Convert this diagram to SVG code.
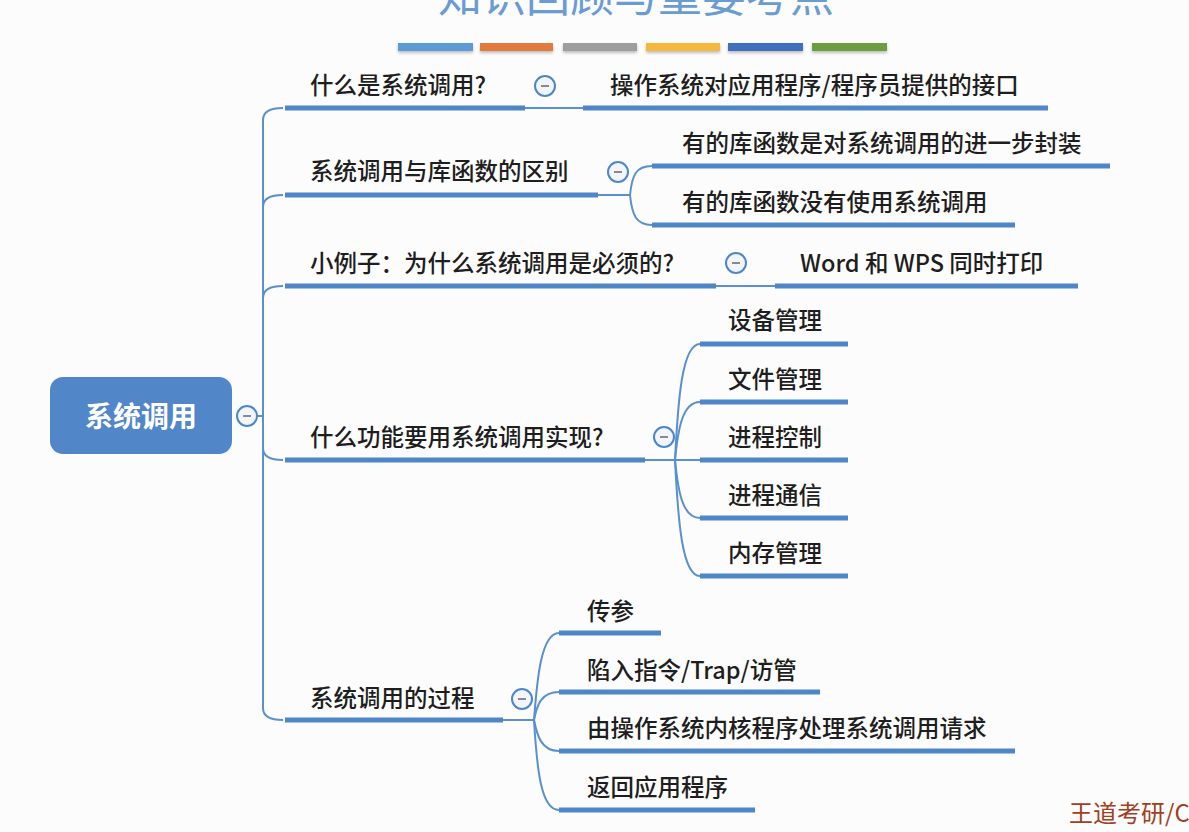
<svg xmlns="http://www.w3.org/2000/svg" width="1189" height="832" viewBox="0 0 1189 832">
<defs>
<style>
.t{font-family:"Noto Sans CJK SC","Liberation Sans",sans-serif;font-size:23.5px;fill:#1e1e1e;font-weight:500}
.u{stroke:#4e86c8;stroke-width:5;fill:none}
.c{stroke:#5a8fd0;stroke-width:2;fill:none}
.tog circle{fill:#f2f5fb;stroke:#4e86c8;stroke-width:2}
.tog line{stroke:#8a8a8a;stroke-width:2}
</style>
<filter id="sh" x="-10%" y="-50%" width="120%" height="250%"><feDropShadow dx="0" dy="2" stdDeviation="1.5" flood-color="#000" flood-opacity="0.25"/></filter>
</defs>
<rect width="1189" height="832" fill="#fcfcfc"/>
<g id="title">
<text x="636" y="12" text-anchor="middle" font-family="Noto Sans CJK SC, sans-serif" font-size="44" fill="#6a9bd3">知识回顾与重要考点</text>
<g filter="url(#sh)">
<rect x="398" y="43" width="75" height="8" fill="#5b9bd5"/>
<rect x="480" y="43" width="73" height="8" fill="#e07a3e"/>
<rect x="563" y="43" width="74" height="8" fill="#9e9e9e"/>
<rect x="646" y="43" width="74" height="8" fill="#f6b73c"/>
<rect x="728" y="43" width="75" height="8" fill="#4170bd"/>
<rect x="812" y="43" width="75" height="8" fill="#6c9e40"/>
</g>
</g>
<g id="connectors">
<path class="c" d="M258,416 H263"/>
<path class="c" d="M263,416 V120 Q263,108 283,108"/>
<path class="c" d="M263,416 V207 Q263,195 283,195"/>
<path class="c" d="M263,416 V298 Q263,286 283,286"/>
<path class="c" d="M263,416 V448 Q263,460 283,460"/>
<path class="c" d="M263,416 V708 Q263,720 283,720"/>
<path class="c" d="M525,108 H583"/>
<path class="c" d="M598,195 H630"/>
<path class="c" d="M630,195 C632,175 636,166 652,166"/>
<path class="c" d="M630,195 C632,215 636,225 652,225"/>
<path class="c" d="M716,286 H775"/>
<path class="c" d="M645,460 H700"/>
<path class="c" d="M675,460 C678,400 682,344 700,344"/>
<path class="c" d="M675,460 C678,430 682,402 700,402"/>
<path class="c" d="M675,460 C678,490 682,518 700,518"/>
<path class="c" d="M675,460 C678,520 682,576 700,576"/>
<path class="c" d="M503,720 H534"/>
<path class="c" d="M534,720 C537,680 541,633 559,633"/>
<path class="c" d="M534,720 C537,705 541,692 559,692"/>
<path class="c" d="M534,720 C537,735 541,751 559,751"/>
<path class="c" d="M534,720 C537,770 541,810 559,810"/>
</g>
<g id="root">
<rect x="50" y="377" width="182" height="77" rx="13" fill="#5186c9"/>
<text x="141" y="427" text-anchor="middle" font-family="Noto Sans CJK SC, sans-serif" font-size="28" font-weight="bold" fill="#ffffff">系统调用</text>
<g class="tog"><circle cx="247" cy="416" r="10"/><line x1="243" y1="416" x2="251" y2="416"/></g>
</g>
<g id="b1">
<text class="t" x="310" y="94">什么是系统调用?</text>
<path class="u" d="M285,108 H525"/>
<g class="tog"><circle cx="545" cy="86" r="10"/><line x1="541" y1="86" x2="549" y2="86"/></g>
</g>
<g id="b1c1">
<text class="t" x="610" y="94">操作系统对应用程序/程序员提供的接口</text>
<path class="u" d="M583,108 H1048"/>
</g>
<g id="b2">
<text class="t" x="310" y="180">系统调用与库函数的区别</text>
<path class="u" d="M285,195 H598"/>
<g class="tog"><circle cx="618" cy="172" r="10"/><line x1="614" y1="172" x2="622" y2="172"/></g>
</g>
<g id="b2c1">
<text class="t" x="682" y="152">有的库函数是对系统调用的进一步封装</text>
<path class="u" d="M652,166 H1110"/>
</g>
<g id="b2c2">
<text class="t" x="682" y="211">有的库函数没有使用系统调用</text>
<path class="u" d="M652,225 H1015"/>
</g>
<g id="b3">
<text class="t" x="310" y="272">小例子：为什么系统调用是必须的?</text>
<path class="u" d="M285,286 H716"/>
<g class="tog"><circle cx="736" cy="263" r="10"/><line x1="732" y1="263" x2="740" y2="263"/></g>
</g>
<g id="b3c1">
<text class="t" x="800" y="272">Word 和 WPS 同时打印</text>
<path class="u" d="M775,286 H1078"/>
</g>
<g id="b4">
<text class="t" x="310" y="446">什么功能要用系统调用实现?</text>
<path class="u" d="M285,460 H645"/>
<g class="tog"><circle cx="664" cy="437" r="10"/><line x1="660" y1="437" x2="668" y2="437"/></g>
</g>
<g id="b4c1"><text class="t" x="728" y="329">设备管理</text><path class="u" d="M700,344 H848"/></g>
<g id="b4c2"><text class="t" x="728" y="388">文件管理</text><path class="u" d="M700,402 H848"/></g>
<g id="b4c3"><text class="t" x="728" y="446">进程控制</text><path class="u" d="M700,460 H848"/></g>
<g id="b4c4"><text class="t" x="728" y="504">进程通信</text><path class="u" d="M700,518 H848"/></g>
<g id="b4c5"><text class="t" x="728" y="562">内存管理</text><path class="u" d="M700,576 H848"/></g>
<g id="b5">
<text class="t" x="310" y="707">系统调用的过程</text>
<path class="u" d="M285,720 H503"/>
<g class="tog"><circle cx="522" cy="699" r="10"/><line x1="518" y1="699" x2="526" y2="699"/></g>
</g>
<g id="b5c1"><text class="t" x="587" y="620">传参</text><path class="u" d="M559,633 H661"/></g>
<g id="b5c2"><text class="t" x="587" y="679">陷入指令/Trap/访管</text><path class="u" d="M559,692 H820"/></g>
<g id="b5c3"><text class="t" x="587" y="737">由操作系统内核程序处理系统调用请求</text><path class="u" d="M559,751 H1015"/></g>
<g id="b5c4"><text class="t" x="587" y="796">返回应用程序</text><path class="u" d="M559,810 H755"/></g>
<g id="watermark">
<text x="1069" y="822" font-family="Noto Sans CJK SC, sans-serif" font-size="24" fill="#a0401f">王道考研/C</text>
</g>
</svg>
